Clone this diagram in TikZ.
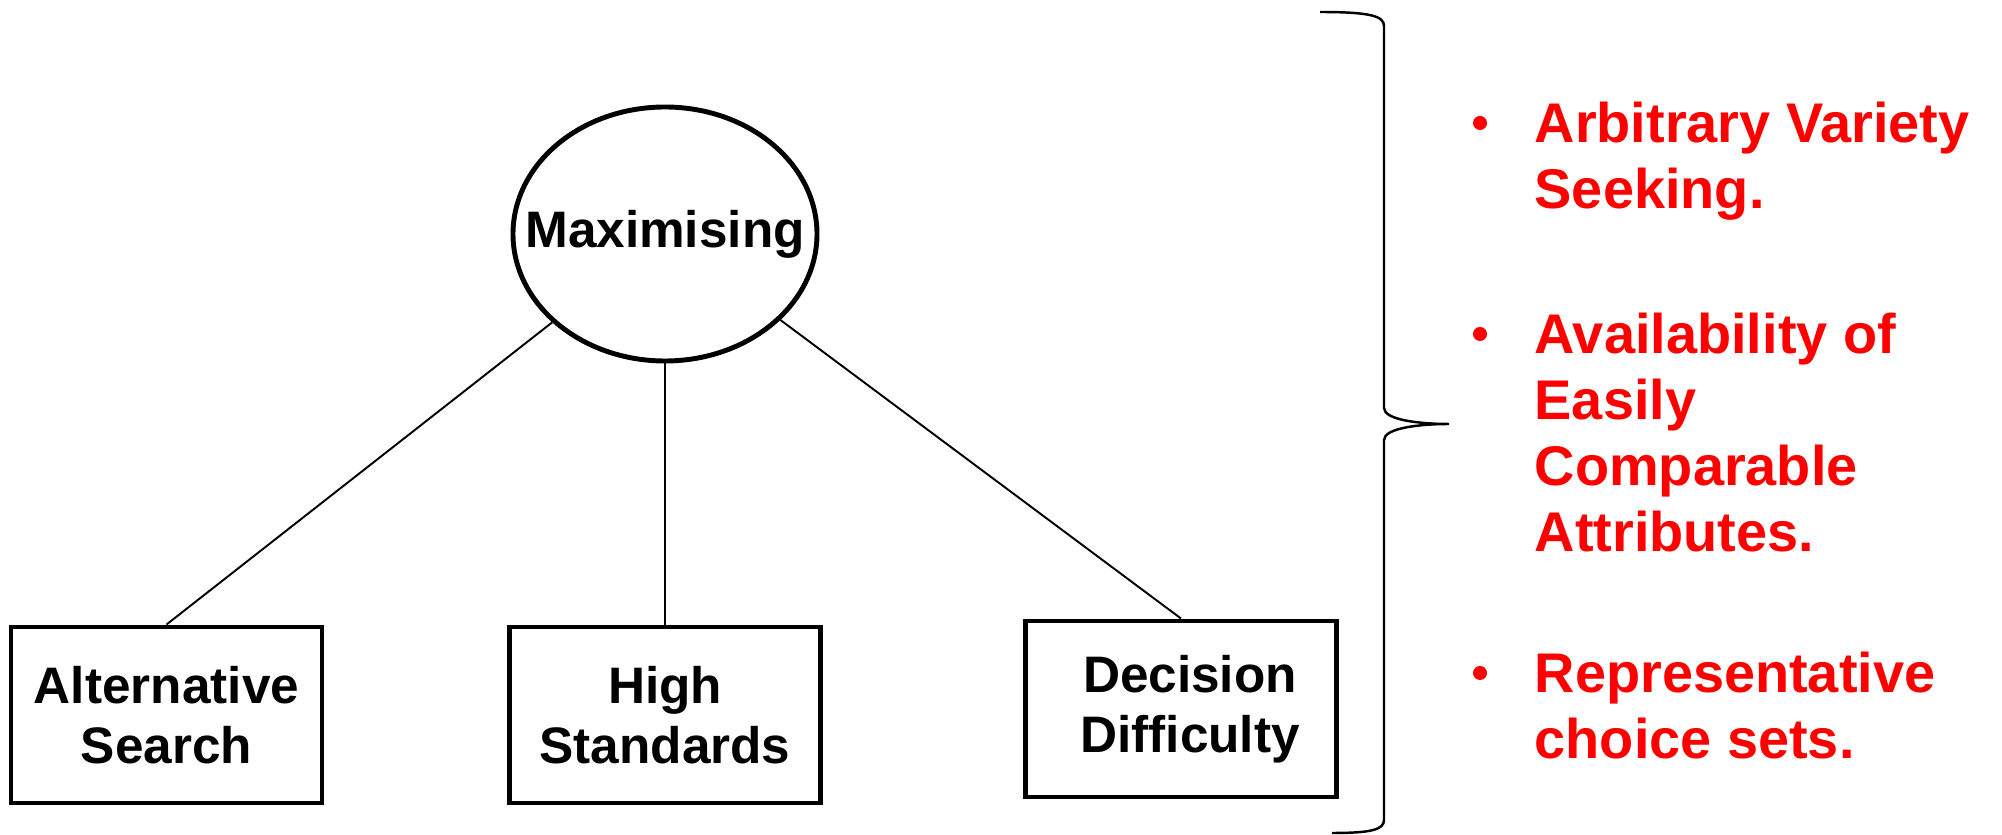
\documentclass[tikz,border=0pt]{standalone}
\usepackage{fontspec}
\setmainfont{Liberation Sans}
\usetikzlibrary{positioning, shapes.geometric}

\begin{document}
\begin{tikzpicture}[node distance=4.8cm, on grid,
  bubble/.style={ellipse, draw, line width=1.4pt, minimum width=3.04cm, minimum height=2.54cm, inner xsep=-0.4cm, inner ysep=0pt, font=\fontsize{14.6}{17}\selectfont\bfseries},
  box/.style={rectangle, draw, line width=1.4pt, minimum width=3.11cm, minimum height=1.76cm, align=center, font=\fontsize{14.6}{17.1}\selectfont\bfseries},
  item/.style={text=red, align=left, inner sep=0pt, font=\fontsize{15.9}{18.8}\selectfont\bfseries},
  dot/.style={circle, fill=red, minimum size=0.14cm, inner sep=0pt}]
  \useasboundingbox (0,0) rectangle (20.02,-8.35);

  \node[bubble] (max) at (6.65,-2.34) {Maximising};
  \node[box] (search) [below left=4.81cm and 4.985cm of max] {Alternative\\Search};
  \node[box] (standards) [below=4.81cm of max] {High\\Standards};
  \node[box] (difficulty) [below right=4.75cm and 5.16cm of max] {\hspace*{0.18cm}Decision\\\hspace*{0.18cm}Difficulty};

  \path[line width=0.55pt]
  (max) edge (search.north)
  (max.south) edge (standards.north)
  (max) edge (difficulty.north)
  ;

  \draw[line width=0.7pt] (13.20,-0.12) .. controls (13.70,-0.12) and (13.84,-0.16) .. (13.84,-0.26)
    -- (13.84,-4.08) .. controls (13.84,-4.20) and (14.20,-4.24) .. (14.49,-4.24)
    .. controls (14.20,-4.24) and (13.84,-4.28) .. (13.84,-4.40)
    -- (13.84,-8.20) .. controls (13.84,-8.30) and (13.70,-8.33) .. (13.32,-8.33);

  \node[item, anchor=base west] (variety) at (15.34,-2.09) {Arbitrary Variety\\Seeking.};
  \node[item, anchor=base west] (attributes) at (15.34,-5.52) {Availability of\\Easily\\Comparable\\Attributes.};
  \node[item, anchor=base west] (sets) at (15.34,-7.59) {Representative\\choice sets.};

  \node[dot] (dot1) at ([shift={(-0.54,0.86)}]variety.base west) {};
  \node[dot] (dot2) at ([shift={(-0.54,2.18)}]attributes.base west) {};
  \node[dot] (dot3) at ([shift={(-0.54,0.86)}]sets.base west) {};
\end{tikzpicture}
\end{document}
